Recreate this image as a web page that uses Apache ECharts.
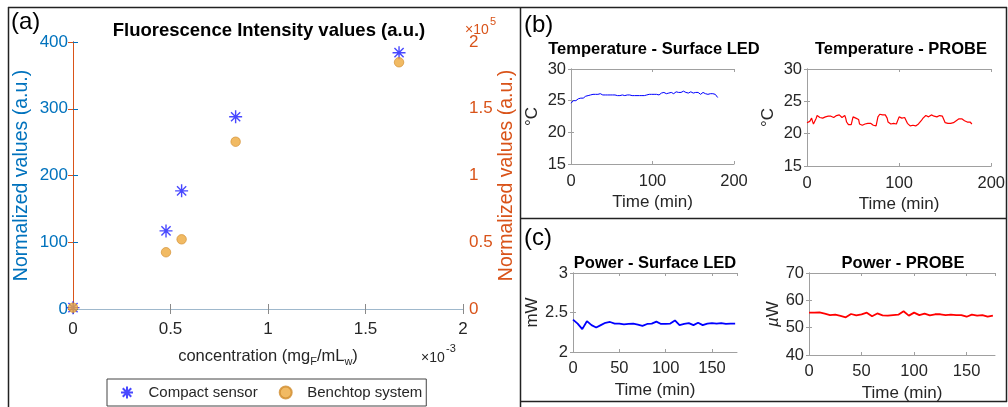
<!DOCTYPE html>
<html>
<head>
<meta charset="utf-8">
<script src="https://cdn.jsdelivr.net/npm/echarts@6/dist/echarts.min.js"></script>
<style>
  html, body { margin: 0; padding: 0; background: #fff; }
  #main { width: 1008px; height: 407px; }
</style>
</head>
<body>
<div id="main"></div>
<script>
// (a) fluorescence vs concentration
var conc = [0, 0.000477, 0.000557, 0.000834, 0.001672]
var compactVals = [2, 117, 177, 288, 384]
var benchVals = [1000, 42500, 52200, 125300, 184800]

// (b) temperature, one sample per minute
var tempStep = 1
var tempLed = [
  24.6, 24.9, 24.8, 25.0, 24.9, 25.1, 25.0, 25.2, 25.1, 25.3,
  25.2, 25.3, 25.4, 25.3, 25.5, 25.4, 25.6, 25.5, 25.7, 25.8,
  25.9, 25.8, 26.0, 25.9, 25.9, 25.8, 25.9, 26.0, 25.9, 26.1,
  26.0, 26.2, 26.1, 26.0, 26.2, 26.0, 26.1, 25.9, 26.0, 25.9,
  26.0, 25.9, 25.9, 26.0, 25.9, 25.9, 25.8, 25.9, 25.9, 25.8,
  25.9, 25.9, 25.8, 25.9, 25.9, 25.8, 25.9, 25.8, 25.9, 25.9,
  25.8, 25.9, 25.8, 25.9, 25.9, 25.8, 25.8, 25.9, 25.8, 25.9,
  25.8, 25.9, 25.9, 25.8, 25.9, 25.8, 25.9, 25.9, 25.8, 25.9,
  25.9, 25.8, 25.9, 25.9, 25.8, 25.9, 25.9, 25.8, 25.9, 25.9,
  25.8, 25.9, 25.8, 25.9, 25.9, 25.8, 26.0, 25.9, 25.9, 26.0,
  25.9, 26.0, 26.0, 25.9, 26.1, 26.0, 26.0, 26.2, 25.9, 26.1,
  26.0, 26.2, 26.0, 26.1, 26.3, 26.0, 26.2, 26.1, 26.3, 26.0,
  26.2, 26.3, 26.1, 26.3, 26.2, 26.4, 26.1, 26.3, 26.2, 26.4,
  26.2, 26.4, 26.3, 26.2, 26.5, 26.3, 26.4, 26.2, 26.5, 26.3,
  26.6, 26.3, 26.4, 26.5, 26.2, 26.5, 26.3, 26.4, 26.2, 26.4,
  26.2, 26.3, 26.1, 26.3, 26.2, 26.1, 26.3, 26.1, 26.2, 26.0,
  26.2, 26.1, 26.3, 26.0, 26.2, 26.1, 26.0, 26.2, 26.0, 26.1,
  26.0, 26.1, 26.0, 25.9, 26.1, 26.0, 25.9, 26.0, 25.9, 25.8,
  25.5
]
var tempProbe = [
  21.7, 21.8, 21.7, 21.9, 22.1, 22.4, 21.9, 21.5, 21.4, 21.6,
  22.4, 22.8, 22.6, 22.7, 22.5, 22.8, 22.6, 22.4, 22.7, 22.5,
  22.6, 22.8, 22.5, 22.7, 22.6, 22.4, 22.7, 22.6, 22.8, 22.5,
  22.7, 22.6, 22.8, 22.5, 22.7, 22.9, 22.6, 22.8, 22.5, 22.7,
  22.6, 22.8, 22.4, 21.8, 21.5, 21.4, 21.6, 21.5, 21.4, 21.6,
  22.6, 22.7, 22.5, 22.4, 22.2, 22.1, 22.2, 21.5, 21.4, 21.5,
  21.3, 21.5, 21.4, 21.5, 21.6, 21.7, 21.6, 21.8, 21.7, 21.6,
  21.7, 21.5, 21.3, 21.4, 21.3, 21.2, 21.4, 22.6, 22.9, 23.0,
  22.9, 23.0, 22.9, 23.1, 23.0, 22.9, 23.0, 22.4, 21.8, 21.6,
  21.7, 21.5, 21.6, 21.4, 21.6, 21.5, 21.7, 21.5, 21.6, 21.7,
  22.6, 22.5, 22.7, 22.4, 22.6, 22.3, 22.5, 22.4, 22.2, 21.6,
  21.4, 21.3, 21.2, 21.4, 21.2, 21.3, 21.1, 21.3, 21.2, 21.4,
  21.3, 21.5, 21.7, 21.8, 22.0, 22.2, 22.4, 22.5, 22.6, 22.8,
  22.7, 22.9, 22.6, 22.8, 22.7, 22.9, 22.6, 22.8, 22.7, 23.0,
  22.8, 22.6, 22.9, 22.7, 22.8, 22.6, 22.9, 22.7, 22.8, 22.6,
  21.7, 21.5, 21.6, 21.6, 21.5, 21.7, 21.6, 21.7, 21.8, 21.7,
  21.6, 21.8, 22.0, 22.2, 22.1, 22.3, 22.2, 22.1, 22.3, 22.2,
  22.2, 22.0, 22.1, 21.9, 21.8, 21.9, 21.7, 21.8, 21.6, 21.5
]

// (c) power, one sample every 5 min
var powerStep = 5
var powerLed = [
  2.41, 2.36, 2.29, 2.39, 2.34, 2.31, 2.34, 2.37, 2.38, 2.36,
  2.36, 2.35, 2.355, 2.36, 2.345, 2.33, 2.355, 2.36, 2.385, 2.355,
  2.355, 2.36, 2.40, 2.34, 2.355, 2.365, 2.34, 2.37, 2.34, 2.36,
  2.365, 2.36, 2.365, 2.355, 2.36, 2.36
]
var powerProbe = [
  55.5, 55.5, 55.6, 55.1, 54.6, 54.75, 54.3, 53.8, 55.0, 54.5,
  54.9, 55.5, 54.2, 55.2, 54.5, 54.4, 54.6, 54.75, 56.0, 54.4,
  55.5, 54.6, 55.1, 54.5, 54.9, 54.9, 54.6, 54.75, 54.6, 54.6,
  54.0, 54.75, 54.4, 54.6, 54.0, 54.4
]

var FONT = 'Liberation Sans, Arial, sans-serif'
var TXT = '#262626'
var BOX = '#a0a0a0'
var BLUE_AX = '#0072BD'
var ORANGE_AX = '#D95319'

function pairs(vals, step) {
  return vals.map(function (v, i) { return [i * step, v] })
}

function xAxes(gi, min, max, interval, name, gap, margin, showMax) {
  var bottom = {
    gridIndex: gi, type: 'value', min: min, max: max, interval: interval,
    name: name, nameLocation: 'middle', nameGap: gap,
    nameTextStyle: { fontFamily: FONT, fontSize: 17, color: TXT },
    axisLine: { lineStyle: { color: BOX, width: 1 } },
    axisTick: { inside: true, length: 3, lineStyle: { color: BOX } },
    axisLabel: { fontFamily: FONT, fontSize: 16.5, color: TXT, margin: margin, showMaxLabel: showMax },
    splitLine: { show: false }
  }
  var top = {
    gridIndex: gi, type: 'value', position: 'top', min: min, max: max, interval: interval,
    axisLine: { lineStyle: { color: BOX, width: 1 } },
    axisTick: { inside: true, length: 3, lineStyle: { color: BOX } },
    axisLabel: { show: false }, splitLine: { show: false }
  }
  return [bottom, top]
}

function yAxes(gi, min, max, interval, name, gap) {
  var left = {
    gridIndex: gi, type: 'value', min: min, max: max, interval: interval,
    name: name, nameLocation: 'middle', nameGap: gap,
    nameTextStyle: { fontFamily: FONT, fontSize: 17, color: TXT,
      rich: { mu: { fontFamily: FONT, fontSize: 17, fontStyle: 'italic', color: TXT } } },
    axisLine: { lineStyle: { color: BOX, width: 1 } },
    axisTick: { inside: true, length: 3, lineStyle: { color: BOX } },
    axisLabel: { fontFamily: FONT, fontSize: 16.5, color: TXT, margin: 5 },
    splitLine: { show: false }
  }
  var right = {
    gridIndex: gi, type: 'value', position: 'right', min: min, max: max, interval: interval,
    axisLine: { lineStyle: { color: BOX, width: 1 } },
    axisTick: { inside: true, length: 3, lineStyle: { color: BOX } },
    axisLabel: { show: false }, splitLine: { show: false }
  }
  return [left, right]
}

var xs = [
  {
    gridIndex: 0, type: 'value', min: 0, max: 0.002, interval: 0.0005,
    name: 'concentration (mg{sub|F}/mL{sub|w})', nameLocation: 'middle', nameGap: 36,
    nameTextStyle: { fontFamily: FONT, fontSize: 16.5, color: TXT, lineHeight: 22,
      rich: { sub: { fontFamily: FONT, fontSize: 11, lineHeight: 10, color: TXT, verticalAlign: 'bottom' } } },
    axisLine: { lineStyle: { color: '#8a8a8a', width: 1 } },
    axisTick: { inside: true, length: 5, lineStyle: { color: '#8a8a8a' } },
    axisLabel: { fontFamily: FONT, fontSize: 17, color: TXT, margin: 12,
      formatter: function (v) { return String(Math.round(v * 10000) / 10) } },
    splitLine: { show: false }
  },
  {
    gridIndex: 0, type: 'value', position: 'top', min: 0, max: 0.002, interval: 0.0005,
    axisLine: { lineStyle: { color: '#9fb8cc', width: 1 } },
    axisTick: { inside: true, length: 5, lineStyle: { color: '#8a8a8a' } },
    axisLabel: { show: false }, splitLine: { show: false }
  }
]
var ys = [
  {
    gridIndex: 0, type: 'value', min: 0, max: 400, interval: 100,
    name: 'Normalized values (a.u.)', nameLocation: 'middle', nameGap: 41,
    nameTextStyle: { fontFamily: FONT, fontSize: 19.5, color: BLUE_AX },
    axisLine: { lineStyle: { color: BLUE_AX, width: 1 } },
    axisTick: { inside: true, length: 5, lineStyle: { color: BLUE_AX } },
    axisLabel: { fontFamily: FONT, fontSize: 17, color: BLUE_AX, margin: 5 },
    splitLine: { show: false }
  },
  {
    gridIndex: 0, type: 'value', position: 'right', min: 0, max: 200000, interval: 50000,
    name: 'Normalized values (a.u.)', nameLocation: 'middle', nameGap: 34,
    nameTextStyle: { fontFamily: FONT, fontSize: 19.5, color: ORANGE_AX },
    axisLine: { lineStyle: { color: ORANGE_AX, width: 1 } },
    axisTick: { inside: true, length: 5, lineStyle: { color: ORANGE_AX } },
    axisLabel: { fontFamily: FONT, fontSize: 17, color: ORANGE_AX, margin: 6,
      formatter: function (v) { return String(v / 100000) } },
    splitLine: { show: false }
  }
]

xs = xs.concat(xAxes(1, 0, 200, 100, 'Time (min)', 30, 9, true))
ys = ys.concat(yAxes(1, 15, 30, 5, '°C', 30))
xs = xs.concat(xAxes(2, 0, 200, 100, 'Time (min)', 30, 9, true))
ys = ys.concat(yAxes(2, 15, 30, 5, '°C', 30))
xs = xs.concat(xAxes(3, 0, 177, 50, 'Time (min)', 30, 8, false))
ys = ys.concat(yAxes(3, 2, 3, 0.5, 'mW', 30))
xs = xs.concat(xAxes(4, 0, 177, 50, 'Time (min)', 30, 8, false))
ys = ys.concat(yAxes(4, 40, 70, 10, '{mu|µ}W', 26))

function txt(x, y, s, size, opts) {
  opts = opts || {}
  return {
    type: 'text', x: x, y: y, z: 10,
    style: {
      text: s, fontFamily: FONT, fontSize: size,
      fontWeight: opts.bold ? 'bold' : 'normal',
      fill: opts.color || '#000',
      align: opts.align || 'center', verticalAlign: 'middle'
    }
  }
}
function hline(x1, x2, y) {
  return { type: 'line', shape: { x1: x1, y1: y, x2: x2, y2: y }, style: { stroke: '#222', lineWidth: 1.5 } }
}
function vline(x, y1, y2) {
  return { type: 'line', shape: { x1: x, y1: y1, x2: x, y2: y2 }, style: { stroke: '#222', lineWidth: 1.5 } }
}

var chart = echarts.init(document.getElementById('main'))
chart.setOption({
  animation: false,
  backgroundColor: '#fff',
  grid: [
    { left: 73, top: 42, width: 390, height: 267 },
    { left: 571, top: 69, width: 163, height: 95 },
    { left: 807, top: 69, width: 188, height: 97 },
    { left: 573, top: 273, width: 164, height: 79 },
    { left: 809, top: 273, width: 186, height: 82 }
  ],
  xAxis: xs,
  yAxis: ys,
  legend: {
    data: ['Compact sensor', 'Benchtop system'],
    left: 107, top: 379, orient: 'horizontal',
    padding: [6, 4, 6, 13], itemWidth: 33, itemHeight: 12, itemGap: 21,
    borderColor: '#444', borderWidth: 1,
    textStyle: { fontFamily: FONT, fontSize: 15, color: TXT }
  },
  series: [
    {
      name: 'Compact sensor', type: 'scatter', xAxisIndex: 0, yAxisIndex: 0,
      data: conc.map(function (c, i) { return [c, compactVals[i]] }),
      symbol: 'path://M0,-10L0,10M-10,0L10,0M-7.07,-7.07L7.07,7.07M-7.07,7.07L7.07,-7.07',
      symbolSize: 13,
      itemStyle: { color: 'transparent', borderColor: '#1a1aff', borderWidth: 1.4 }
    },
    {
      name: 'Benchtop system', type: 'scatter', xAxisIndex: 0, yAxisIndex: 1,
      data: conc.map(function (c, i) { return [c, benchVals[i]] }),
      symbol: 'circle', symbolSize: 9.5,
      itemStyle: { color: '#EDA93C', borderColor: '#CF8B2C', borderWidth: 0.8 }
    },
    {
      type: 'line', xAxisIndex: 2, yAxisIndex: 2, data: pairs(tempLed, tempStep),
      showSymbol: false, lineStyle: { color: '#0000ff', width: 1 }
    },
    {
      type: 'line', xAxisIndex: 4, yAxisIndex: 4, data: pairs(tempProbe, tempStep),
      showSymbol: false, lineStyle: { color: '#ff0000', width: 1.2 }
    },
    {
      type: 'line', xAxisIndex: 6, yAxisIndex: 6, data: pairs(powerLed, powerStep),
      showSymbol: false, lineStyle: { color: '#0000ff', width: 1.8 }
    },
    {
      type: 'line', xAxisIndex: 8, yAxisIndex: 8, data: pairs(powerProbe, powerStep),
      showSymbol: false, lineStyle: { color: '#ff0000', width: 1.8 }
    }
  ],
  graphic: [
    hline(8, 1007, 7.5),
    vline(8.5, 7, 407),
    vline(520.5, 7, 407),
    vline(1006.5, 7, 402),
    hline(520, 1007, 218.5),
    hline(520, 1007, 401.5),
    txt(11, 22, '(a)', 24, { align: 'left' }),
    txt(524, 25, '(b)', 24, { align: 'left' }),
    txt(524, 238, '(c)', 24, { align: 'left' }),
    txt(269, 31, 'Fluorescence Intensity values (a.u.)', 18.5, { bold: true }),
    txt(465, 30, '×10', 14, { align: 'left', color: ORANGE_AX }),
    txt(490, 22, '5', 11, { align: 'left', color: ORANGE_AX }),
    txt(421, 358, '×10', 14, { align: 'left', color: TXT }),
    txt(446, 349, '-3', 11, { align: 'left', color: TXT }),
    txt(654, 49, 'Temperature - Surface LED', 16.5, { bold: true }),
    txt(901, 49, 'Temperature - PROBE', 16.5, { bold: true }),
    txt(655, 263, 'Power - Surface LED', 16.5, { bold: true }),
    txt(903, 263, 'Power - PROBE', 16.5, { bold: true })
  ]
})
</script>
</body>
</html>
